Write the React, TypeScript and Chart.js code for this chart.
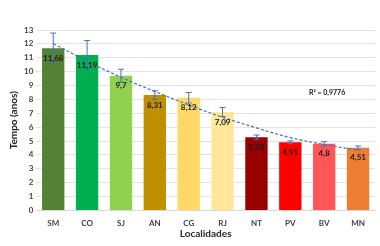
import React, { useEffect, useRef } from "react";
import { Chart, registerables } from "chart.js";

Chart.register(...registerables);

const categories = ["SM", "CO", "SJ", "AN", "CG", "RJ", "NT", "PV", "BV", "MN"];
const values = [11.68, 11.19, 9.7, 8.31, 8.12, 7.09, 5.28, 4.91, 4.8, 4.51];
const valueLabels = ["11,68", "11,19", "9,7", "8,31", "8,12", "7,09", "5,28", "4,91", "4,8", "4,51"];
const errors = [1.1, 1.05, 0.47, 0.31, 0.38, 0.33, 0.15, 0.1, 0.15, 0.13];
const trend = [12.03, 10.75, 9.6, 8.57, 7.6, 6.72, 5.95, 5.25, 4.75, 4.33];
const barColors = ["#548235", "#00B050", "#92D050", "#BF9000", "#FFD966", "#FFE699", "#990000", "#FF0000", "#FF5757", "#ED7D31"];
const yTicks = [0, 1, 2, 3, 4, 5, 6, 7, 8, 9, 10, 11, 12, 13];
const r2Label = "R² = 0,9776";

const FONT = "Lato, 'Open Sans', 'Liberation Sans', sans-serif";

export default function App() {
  const ref = useRef<HTMLCanvasElement | null>(null);
  useEffect(() => {
    if (!ref.current) return;
    const overlay = {
      id: "overlay",
      afterDatasetsDraw(chart: any) {
        const ctx = chart.ctx;
        const x = chart.scales.x;
        const y = chart.scales.y;
        ctx.save();
        ctx.strokeStyle = "#4472C4";
        ctx.lineWidth = 1;
        values.forEach((v, i) => {
          const cx = x.getPixelForValue(i);
          const t = y.getPixelForValue(v + errors[i]);
          const b = y.getPixelForValue(v - errors[i]);
          ctx.beginPath();
          ctx.moveTo(cx, t);
          ctx.lineTo(cx, b);
          ctx.moveTo(cx - 3, t);
          ctx.lineTo(cx + 3, t);
          ctx.moveTo(cx - 3, b);
          ctx.lineTo(cx + 3, b);
          ctx.stroke();
        });
        ctx.fillStyle = "#1a1a1a";
        ctx.font = "bold 8px " + FONT;
        ctx.textAlign = "center";
        ctx.textBaseline = "middle";
        values.forEach((v, i) => {
          const cx = x.getPixelForValue(i);
          const top = y.getPixelForValue(v);
          ctx.fillText(valueLabels[i], cx, top + 10);
        });
        ctx.font = "bold 7px " + FONT;
        ctx.textAlign = "left";
        ctx.fillText(r2Label, x.getPixelForValue(7.55), y.getPixelForValue(8.5));
        ctx.restore();
      },
    };
    const chart = new Chart(ref.current, {
      type: "bar",
      data: {
        labels: categories,
        datasets: [
          {
            type: "line",
            data: trend,
            borderColor: "#4472C4",
            borderWidth: 1.2,
            borderDash: [3, 2],
            pointRadius: 0,
            tension: 0.4,
            fill: false,
            order: 0,
          } as any,
          {
            type: "bar",
            data: values,
            backgroundColor: barColors,
            barPercentage: 0.66,
            categoryPercentage: 1,
            order: 1,
          },
        ],
      },
      options: {
        animation: false,
        responsive: false,
        maintainAspectRatio: false,
        events: [],
        layout: { padding: { top: 30, right: 5, left: 8, bottom: 6 } },
        plugins: {
          legend: { display: false },
          tooltip: { enabled: false },
        },
        scales: {
          x: {
            grid: { display: false },
            border: { display: true, color: "#d9d9d9" },
            ticks: { color: "#404040", font: { family: FONT, size: 8, weight: "bold" }, padding: 0 },
            title: { display: true, text: "Localidades", color: "#262626", font: { family: FONT, size: 10, weight: "bold" }, padding: { top: 0, bottom: 0 } },
          },
          y: {
            min: 0,
            max: 13,
            afterBuildTicks: (axis: any) => {
              axis.ticks = yTicks.map((v) => ({ value: v }));
            },
            grid: { color: "#e3e3e3", drawTicks: false },
            border: { display: false },
            ticks: { color: "#404040", font: { family: FONT, size: 8, weight: "bold" }, padding: 3 },
            title: { display: true, text: "Tempo (anos)", color: "#262626", font: { family: FONT, size: 10, weight: "bold" }, padding: { top: 0, bottom: 1 } },
          },
        },
      },
      plugins: [overlay],
    });
    return () => chart.destroy();
  }, []);
  return (
    <div style={{ position: "fixed", left: 0, top: 0, width: 380, height: 246, background: "#fff" }}>
      <canvas ref={ref} width={380} height={246} style={{ width: 380, height: 246 }} />
    </div>
  );
}
